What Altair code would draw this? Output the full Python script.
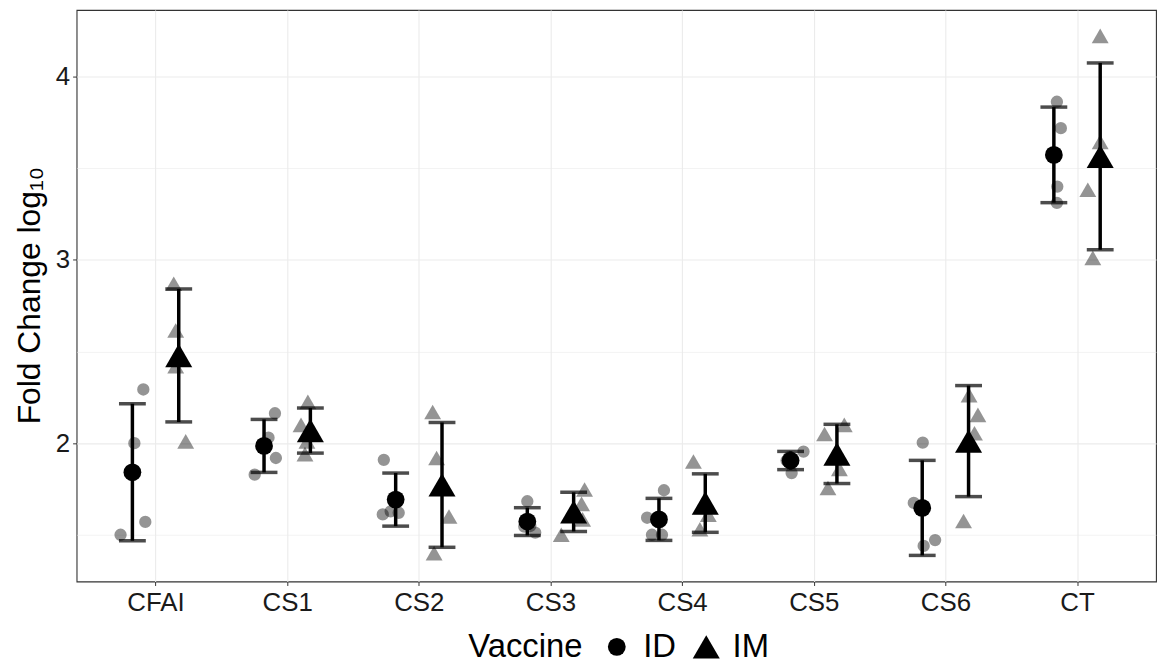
import altair as alt
import pandas as pd

categories = ["CFAI", "CS1", "CS2", "CS3", "CS4", "CS5", "CS6", "CT"]
vaccines = ["ID", "IM"]

# individual replicate values (log10 fold change)
id_values = [
    [2.293, 2.00, 1.57, 1.50],
    [2.163, 2.03, 1.919, 1.828],
    [1.909, 1.611, 1.62, 1.628],
    [1.683, 1.512, 1.545, 1.548],
    [1.743, 1.593, 1.50, 1.50],
    [1.954, 1.837, 1.905, 1.925],
    [2.003, 1.674, 1.439, 1.471],
    [3.863, 3.719, 3.40, 3.311],
]
im_values = [
    [2.87, 2.615, 2.42, 2.01],
    [2.225, 2.10, 2.01, 1.94],
    [2.17, 1.919, 1.60, 1.40],
    [1.747, 1.669, 1.584, 1.50],
    [1.90, 1.61, 1.652, 1.53],
    [2.05, 2.10, 1.86, 1.755],
    [2.262, 2.154, 2.054, 1.575],
    [4.223, 3.644, 3.383, 3.011],
]
# horizontal jitter of each replicate, in fractions of one category step
id_jitter = [
    [0.083, 0.015, 0.098, -0.090],
    [0.083, 0.034, 0.090, -0.071],
    [-0.090, -0.098, 0.023, -0.038],
    [0.0, 0.060, -0.023, 0.023],
    [0.038, -0.090, -0.053, 0.023],
    [0.098, 0.008, -0.030, -0.008],
    [0.004, -0.064, 0.011, 0.098],
    [0.023, 0.053, 0.026, 0.023],
]
im_jitter = [
    [-0.038, -0.023, -0.023, 0.053],
    [-0.019, -0.071, -0.026, -0.041],
    [-0.071, -0.041, 0.053, -0.060],
    [0.083, 0.060, 0.068, -0.094],
    [-0.090, 0.023, -0.023, -0.041],
    [-0.094, 0.056, 0.019, -0.068],
    [0.004, 0.071, 0.045, -0.038],
    [0.0, 0.0, -0.094, -0.056],
]

dodge = {"ID": -0.176, "IM": 0.176}

rows = []
for i, cat in enumerate(categories):
    for vac, vals, jit in (("ID", id_values[i], id_jitter[i]), ("IM", im_values[i], im_jitter[i])):
        xc = i + 1 + dodge[vac]
        for v, j in zip(vals, jit):
            rows.append({"category": cat, "Vaccine": vac, "value": v, "xc": xc, "xj": xc + j})
df = pd.DataFrame(rows)

FONT = "Liberation Sans"
label_expr = "[" + ",".join(f"'{c}'" for c in categories) + "][datum.value - 1]"

x_scale = alt.Scale(domain=[0.4, 8.6], nice=False, zero=False)
y_scale = alt.Scale(domain=[1.245, 4.364], nice=False, zero=False)

x_axis = alt.Axis(
    values=list(range(1, len(categories) + 1)),
    labelExpr=label_expr,
    title=None,
    grid=True,
    gridColor="#EBEBEB",
    gridWidth=1.1,
    domain=False,
    tickColor="#333333",
    tickSize=4,
    tickWidth=1,
    labelFontSize=26,
    labelFont=FONT,
    labelColor="#1a1a1a",
    labelPadding=4,
)
y_axis = alt.Axis(
    values=[1.5, 2, 2.5, 3, 3.5, 4],
    labelExpr="datum.value % 1 == 0 ? format(datum.value, 'd') : ''",
    title="Fold Change log₁₀",
    titleFontSize=32,
    titleFont=FONT,
    titleFontWeight="normal",
    titleColor="black",
    titleAngle=-90,
    titleAlign="center",
    titleBaseline="middle",
    titleX=-47,
    titleY=287,
    grid=True,
    gridColor="#EBEBEB",
    gridWidth={"condition": {"test": "datum.value % 1 != 0", "value": 0.6}, "value": 1.1},
    tickOpacity={"condition": {"test": "datum.value % 1 != 0", "value": 0}, "value": 1},
    domain=False,
    tickColor="#333333",
    tickSize=4,
    tickWidth=1,
    labelFontSize=26,
    labelFont=FONT,
    labelColor="#1a1a1a",
    labelPadding=3,
)

base = alt.Chart(df)

pts_id = base.transform_filter(alt.datum.Vaccine == "ID").mark_point(
    shape="circle", filled=True, color="black", opacity=0.42, size=154, strokeWidth=0
).encode(
    x=alt.X("xj:Q", scale=x_scale, axis=x_axis),
    y=alt.Y("value:Q", scale=y_scale, axis=y_axis),
)
pts_im = base.transform_filter(alt.datum.Vaccine == "IM").mark_point(
    shape="triangle-up", filled=True, color="black", opacity=0.42, size=289, strokeWidth=0
).encode(
    x=alt.X("xj:Q", scale=x_scale, axis=x_axis),
    y=alt.Y("value:Q", scale=y_scale, axis=y_axis),
)

err = base.mark_errorbar(
    extent="stdev", ticks=True, orient="vertical", color="black", size=27, thickness=3.5
).encode(
    x=alt.X("xc:Q", scale=x_scale, axis=x_axis),
    y=alt.Y("value:Q", scale=y_scale, axis=y_axis),
    detail="Vaccine:N",
)

means = base.mark_point(filled=True, color="black", opacity=1, strokeWidth=0).encode(
    x=alt.X("xc:Q", scale=x_scale, axis=x_axis),
    y=alt.Y("mean(value):Q", scale=y_scale, axis=y_axis),
    shape=alt.Shape(
        "Vaccine:N",
        scale=alt.Scale(domain=vaccines, range=["circle", "triangle-up"]),
        legend=alt.Legend(
            title="Vaccine",
            orient="none",
            legendX=394,
            legendY=624,
            direction="horizontal",
            titleOrient="left",
            titleFontSize=33,
            titleFont=FONT,
            titleFontWeight="normal",
            titleColor="black",
            titlePadding=18,
            labelFontSize=33,
            labelFont=FONT,
            labelColor="black",
            symbolFillColor="black",
            symbolStrokeColor="black",
            symbolOpacity=1,
            symbolStrokeWidth=0,
            columnPadding=14,
            labelOffset=10,
        ),
    ),
    size=alt.Size(
        "Vaccine:N",
        scale=alt.Scale(domain=vaccines, range=[320, 740]),
    ),
)

chart = alt.layer(pts_id, pts_im, err, means).properties(
    width=1086,
    height=575,
    background="white",
    autosize=alt.AutoSizeParams(type="none"),
    padding={"left": 69, "top": 0, "right": 2, "bottom": 80},
).configure_view(
    stroke="#333333", strokeWidth=1.1
)

chart.save("out.html", embed_options={"renderer": "svg", "actions": False})
